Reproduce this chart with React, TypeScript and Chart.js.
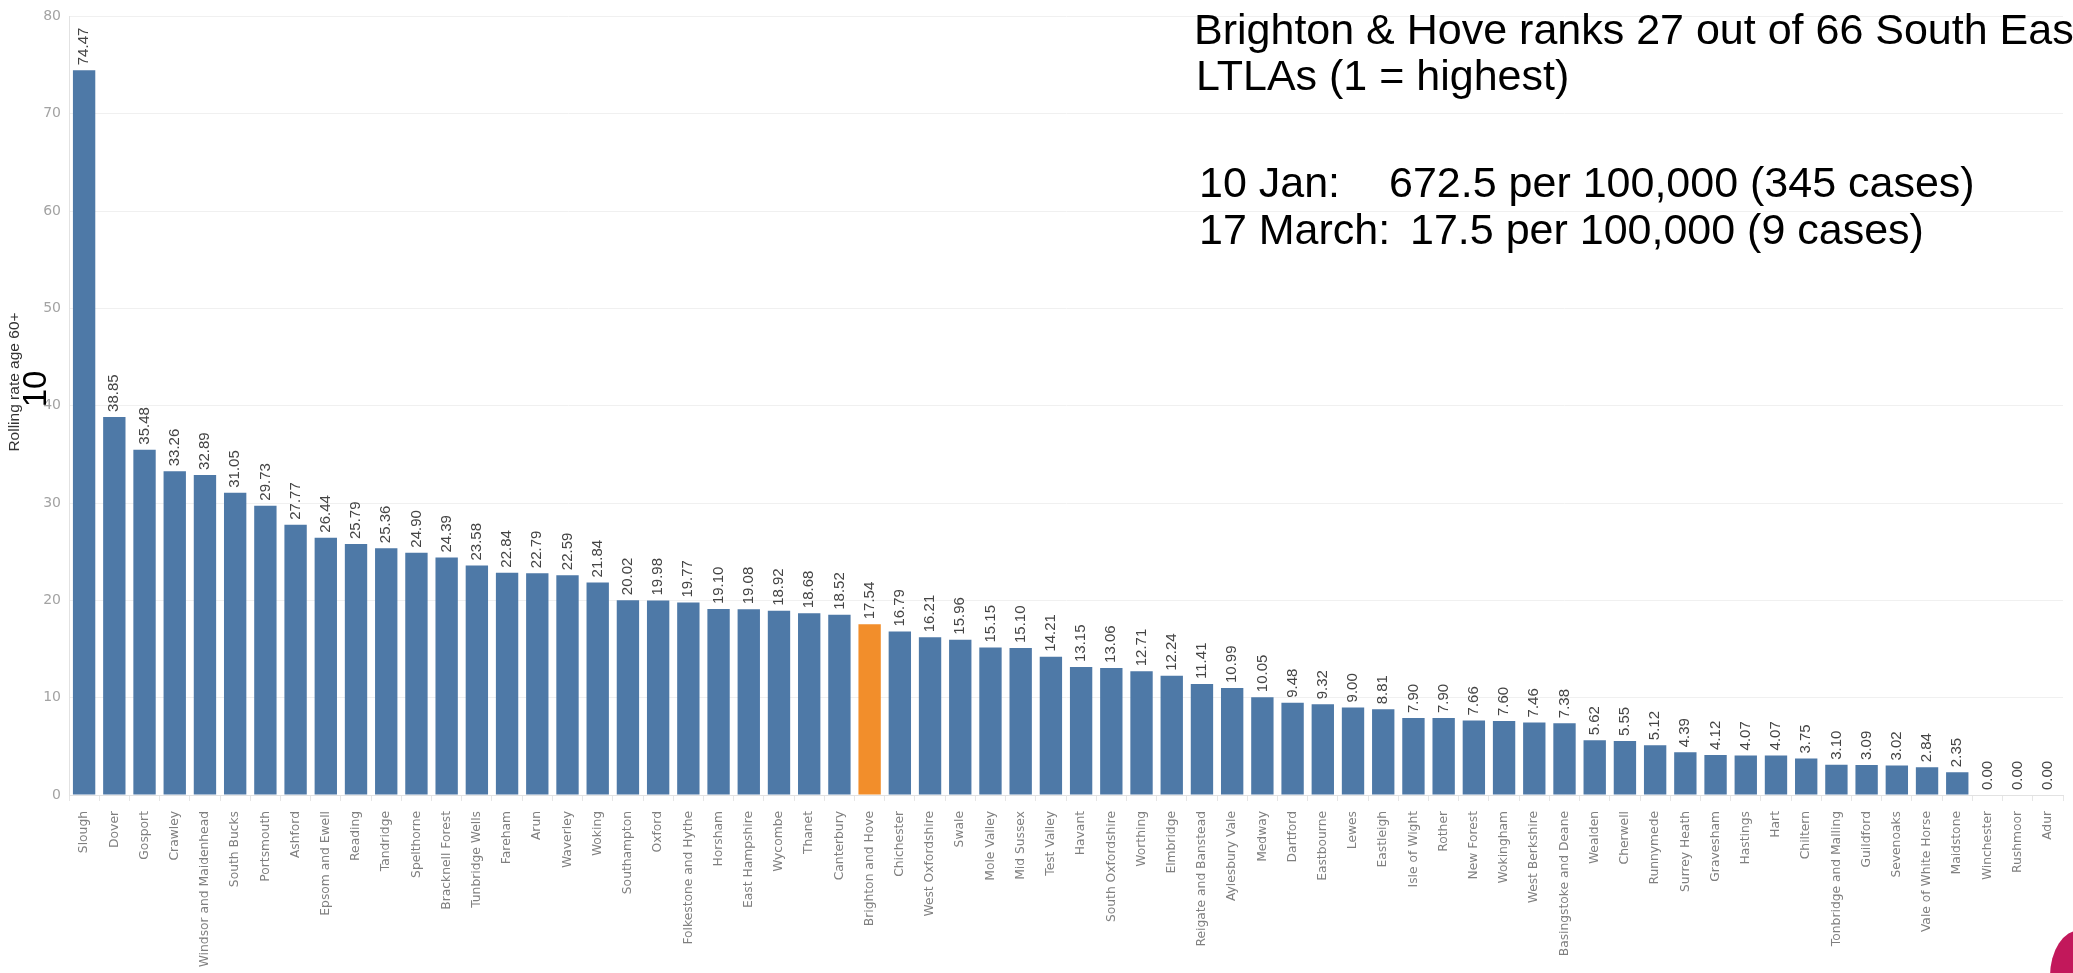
import React, { useEffect, useRef } from "react";
import { Chart, registerables } from "chart.js";

Chart.register(...registerables);

const categories: string[] = [
  "Slough", "Dover", "Gosport", "Crawley", "Windsor and Maidenhead", "South Bucks",
  "Portsmouth", "Ashford", "Epsom and Ewell", "Reading", "Tandridge", "Spelthorne",
  "Bracknell Forest", "Tunbridge Wells", "Fareham", "Arun", "Waverley", "Woking",
  "Southampton", "Oxford", "Folkestone and Hythe", "Horsham", "East Hampshire", "Wycombe",
  "Thanet", "Canterbury", "Brighton and Hove", "Chichester", "West Oxfordshire", "Swale",
  "Mole Valley", "Mid Sussex", "Test Valley", "Havant", "South Oxfordshire", "Worthing",
  "Elmbridge", "Reigate and Banstead", "Aylesbury Vale", "Medway", "Dartford", "Eastbourne",
  "Lewes", "Eastleigh", "Isle of Wight", "Rother", "New Forest", "Wokingham",
  "West Berkshire", "Basingstoke and Deane", "Wealden", "Cherwell", "Runnymede", "Surrey Heath",
  "Gravesham", "Hastings", "Hart", "Chiltern", "Tonbridge and Malling", "Guildford",
  "Sevenoaks", "Vale of White Horse", "Maidstone", "Winchester", "Rushmoor", "Adur",
];

const rates: number[] = [
  74.47, 38.85, 35.48, 33.26, 32.89, 31.05,
  29.73, 27.77, 26.44, 25.79, 25.36, 24.9,
  24.39, 23.58, 22.84, 22.79, 22.59, 21.84,
  20.02, 19.98, 19.77, 19.1, 19.08, 18.92,
  18.68, 18.52, 17.54, 16.79, 16.21, 15.96,
  15.15, 15.1, 14.21, 13.15, 13.06, 12.71,
  12.24, 11.41, 10.99, 10.05, 9.48, 9.32,
  9.0, 8.81, 7.9, 7.9, 7.66, 7.6,
  7.46, 7.38, 5.62, 5.55, 5.12, 4.39,
  4.12, 4.07, 4.07, 3.75, 3.1, 3.09,
  3.02, 2.84, 2.35, 0.0, 0.0, 0.0,
];

const highlighted = "Brighton and Hove";
const yMin = 0;
const yMax = 80;
const yStep = 10;

const axisTitle = "Rolling rate age 60+";
const axisOverlay = "10";
const noteLines: string[] = [
  "Brighton & Hove ranks 27 out of 66 South East",
  "LTLAs (1 = highest)",
];
const noteJan = ["10 Jan:", "672.5 per 100,000 (345 cases)"];
const noteMarch = ["17 March:", "17.5 per 100,000 (9 cases)"];

const BLUE = "#4e79a7";
const ORANGE = "#f28e2b";

const valueLabelPlugin = {
  id: "valueLabels",
  afterDatasetsDraw(chart: any) {
    const ctx = chart.ctx;
    const meta = chart.getDatasetMeta(0);
    const data = chart.data.datasets[0].data as number[];
    ctx.save();
    ctx.font = '15px "Liberation Sans", Arial, sans-serif';
    ctx.fillStyle = "#444444";
    ctx.textAlign = "left";
    ctx.textBaseline = "middle";
    meta.data.forEach((bar: any, i: number) => {
      ctx.save();
      ctx.translate(bar.x, bar.y - 5);
      ctx.rotate(-Math.PI / 2);
      ctx.fillText(Number(data[i]).toFixed(2), 0, 0);
      ctx.restore();
    });
    ctx.restore();
  },
};

export default function App() {
  const canvasRef = useRef<HTMLCanvasElement | null>(null);

  useEffect(() => {
    if (!canvasRef.current) return;
    const chart = new Chart(canvasRef.current, {
      type: "bar",
      data: {
        labels: categories,
        datasets: [
          {
            data: rates,
            backgroundColor: categories.map((c) => (c === highlighted ? ORANGE : BLUE)),
            borderWidth: 0,
            barPercentage: 0.74,
            categoryPercentage: 1,
          },
        ],
      },
      options: {
        responsive: false,
        animation: false,
        devicePixelRatio: 1,
        layout: { padding: { top: 14, right: 10, left: 0, bottom: 0 } },
        plugins: {
          legend: { display: false },
          tooltip: { enabled: false },
        },
        scales: {
          x: {
            offset: true,
            grid: {
              display: true,
              drawOnChartArea: false,
              drawTicks: true,
              tickLength: 6,
              color: "#e6e6e6",
            },
            border: { display: true, color: "#e2e2e2" },
            ticks: {
              autoSkip: false,
              maxRotation: 90,
              minRotation: 90,
              padding: 10,
              color: "#7f7f7f",
              font: { family: "'DejaVu Sans', sans-serif", size: 12.3 },
            },
            afterFit(scale: any) {
              scale.height = 178;
            },
          },
          y: {
            min: yMin,
            max: yMax,
            ticks: {
              stepSize: yStep,
              padding: 8,
              color: "#a3a3a3",
              font: { family: "'DejaVu Sans', sans-serif", size: 14 },
            },
            grid: { color: "#f0f0f0", drawTicks: false },
            border: { display: true, color: "#e2e2e2" },
            afterFit(scale: any) {
              scale.width = 69;
            },
          },
        },
      },
      plugins: [valueLabelPlugin],
    });
    return () => chart.destroy();
  }, []);

  const noteStyle: React.CSSProperties = {
    position: "absolute",
    fontFamily: '"Liberation Sans", Arial, sans-serif',
    fontSize: 43,
    lineHeight: "43px",
    color: "#000",
    whiteSpace: "pre",
  };

  return (
    <div
      style={{
        position: "fixed",
        left: 0,
        top: 0,
        width: 2073,
        height: 973,
        overflow: "hidden",
        background: "#fff",
      }}
    >
      <canvas ref={canvasRef} width={2073} height={973} style={{ display: "block" }} />
      <div
        style={{
          position: "absolute",
          left: 14,
          top: 382,
          transform: "translate(-50%, -50%) rotate(-90deg)",
          fontFamily: '"Liberation Sans", Arial, sans-serif',
          fontSize: 15.5,
          color: "#333",
          whiteSpace: "nowrap",
        }}
      >
        {axisTitle}
      </div>
      <div
        style={{
          position: "absolute",
          left: 34,
          top: 389,
          transform: "translate(-50%, -50%) rotate(-90deg)",
          fontFamily: '"Liberation Sans", Arial, sans-serif',
          fontSize: 33,
          lineHeight: "33px",
          color: "#000",
          whiteSpace: "nowrap",
        }}
      >
        {axisOverlay}
      </div>
      <div style={{ ...noteStyle, left: 1194, top: 8 }}>{noteLines[0]}</div>
      <div style={{ ...noteStyle, left: 1196, top: 54 }}>{noteLines[1]}</div>
      <div style={{ ...noteStyle, left: 1199, top: 161 }}>{noteJan[0]}</div>
      <div style={{ ...noteStyle, left: 1389, top: 161 }}>{noteJan[1]}</div>
      <div style={{ ...noteStyle, left: 1199, top: 208 }}>{noteMarch[0]}</div>
      <div style={{ ...noteStyle, left: 1410, top: 208 }}>{noteMarch[1]}</div>
      <div
        style={{
          position: "absolute",
          left: 2050,
          top: 930,
          width: 30,
          height: 46,
          background: "#c2185b",
          borderTopLeftRadius: "100% 100%",
        }}
      />
    </div>
  );
}
